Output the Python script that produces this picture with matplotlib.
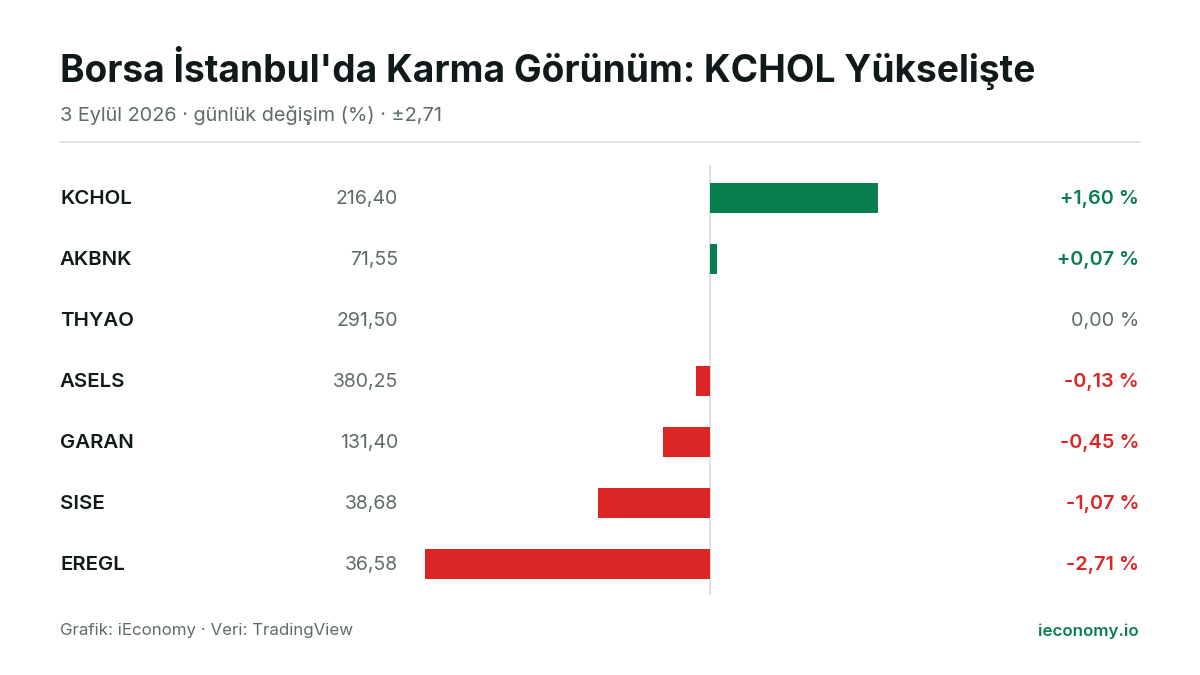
import matplotlib
matplotlib.use("Agg")
import matplotlib.pyplot as plt

tickers = ["KCHOL", "AKBNK", "THYAO", "ASELS", "GARAN", "SISE", "EREGL"]
prices = ["216,40", "71,55", "291,50", "380,25", "131,40", "38,68", "36,58"]
changes = [1.60, 0.07, 0.00, -0.13, -0.45, -1.07, -2.71]

GREEN = "#0a7d4f"
RED = "#dc2626"
GREY = "#5f6b6b"
DARK = "#111a1a"

plt.rcParams["font.family"] = ["Inter", "DejaVu Sans"]

W, H = 1200, 675
fig = plt.figure(figsize=(12, 6.75), dpi=100)
fig.patch.set_facecolor("white")


def px(x, y):
    return x / W, 1 - y / H


def ftext(x, y, s, **kw):
    fig.text(*px(x, y), s, **kw)


# axes for bars: pixel x 400..1000, y 165..595, 105 px per %
ax = fig.add_axes([400 / W, 1 - 595 / H, 600 / W, 430 / H])
ppu = 105
ax.set_xlim(-(710 - 400) / ppu, (1000 - 710) / ppu)
ax.set_ylim(6 + (595 - 564) / 61, -33 / 61)
ax.axis("off")
ax.axvline(0, color="#d9dde0", lw=1.2, zorder=1)

for i, (t, p, c) in enumerate(zip(tickers, prices, changes)):
    col = GREEN if c > 0 else (RED if c < 0 else GREY)
    if c != 0:
        ax.barh(i, c, height=0.49, color=col, zorder=2)
    yy = 199 + 61 * i
    ftext(60, yy, t, fontsize=14.7, fontweight="semibold", color=DARK, va="center")
    ftext(398, yy, p, fontsize=14, color=GREY, va="center", ha="right")
    sign = "+" if c > 0 else ""
    ftext(1139, yy, f"{sign}{c:.2f} %".replace(".", ","), fontsize=14.3,
          fontweight="semibold" if c != 0 else "normal", color=col, va="center", ha="right")

ftext(60, 68, "Borsa İstanbul'da Karma Görünüm: KCHOL Yükselişte",
      fontsize=26.7, fontweight="bold", color=DARK, va="center")
ftext(60, 115, "3 Eylül 2026 · günlük değişim (%) · ±2,71",
      fontsize=14.3, color=GREY, va="center")
fig.add_artist(plt.Line2D([60 / W, 1140 / W], [1 - 142 / H] * 2, color="#dcdfe2", lw=1.2))
ftext(60, 631, "Grafik: iEconomy · Veri: TradingView", fontsize=12.2, color=GREY, va="center")
ftext(1139, 631, "ieconomy.io", fontsize=12.2, fontweight="semibold", color=GREEN, va="center", ha="right")

fig.savefig("out.png", dpi=100)
